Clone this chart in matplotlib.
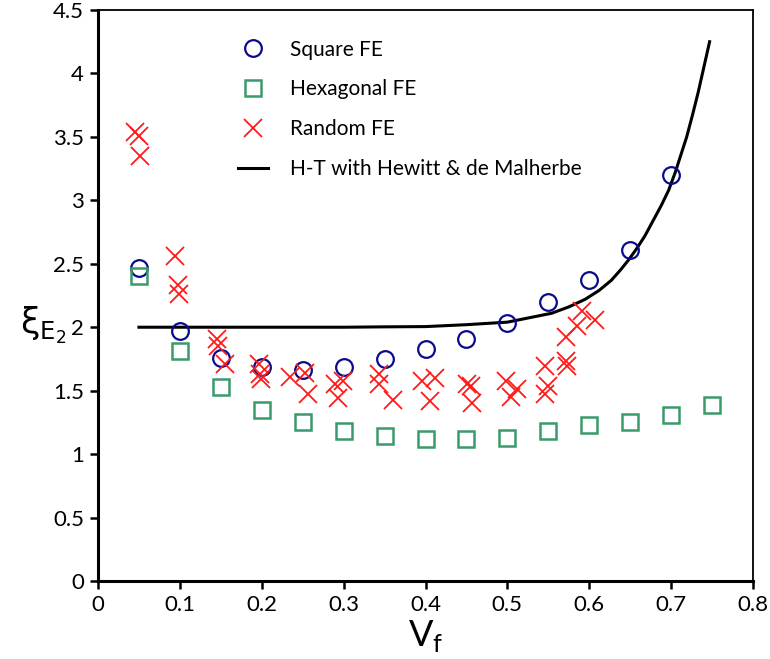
import numpy as np
import matplotlib
matplotlib.use("Agg")
import matplotlib.pyplot as plt

plt.rcParams['font.family'] = ['Lato', 'DejaVu Sans']
plt.rcParams['mathtext.fontset'] = 'dejavusans'

# Square FE (circles)
vf_square = [0.05, 0.10, 0.15, 0.20, 0.25, 0.30, 0.35, 0.40, 0.45, 0.50, 0.55, 0.60, 0.65, 0.70]
xi_square = [2.47, 1.97, 1.76, 1.69, 1.66, 1.69, 1.75, 1.83, 1.91, 2.03, 2.20, 2.37, 2.61, 3.20]

# Hexagonal FE (squares)
vf_hex = [0.05, 0.10, 0.15, 0.20, 0.25, 0.30, 0.35, 0.40, 0.45, 0.50, 0.55, 0.60, 0.65, 0.70, 0.75]
xi_hex = [2.40, 1.81, 1.53, 1.35, 1.25, 1.18, 1.14, 1.12, 1.12, 1.13, 1.18, 1.23, 1.25, 1.31, 1.39]

# Random FE (crosses)
vf_random = [0.045, 0.050, 0.051, 0.094, 0.098, 0.099, 0.145, 0.146, 0.155,
             0.197, 0.198, 0.199, 0.235, 0.253, 0.256, 0.289, 0.299, 0.293,
             0.343, 0.343, 0.360, 0.396, 0.412, 0.406, 0.451, 0.455, 0.457,
             0.498, 0.512, 0.504, 0.546, 0.546, 0.550, 0.571, 0.573, 0.571,
             0.585, 0.591, 0.607]
xi_random = [3.54, 3.51, 3.35, 2.56, 2.33, 2.26, 1.91, 1.85, 1.71,
             1.71, 1.63, 1.59, 1.61, 1.64, 1.47, 1.55, 1.58, 1.44,
             1.63, 1.55, 1.43, 1.58, 1.60, 1.42, 1.55, 1.54, 1.405,
             1.58, 1.51, 1.45, 1.695, 1.47, 1.54, 1.735, 1.695, 1.92,
             2.01, 2.13, 2.06]

# H-T with Hewitt & de Malherbe
vf_ht = [0.05, 0.10, 0.20, 0.30, 0.35, 0.40, 0.45, 0.50, 0.554, 0.575, 0.595,
         0.612, 0.627, 0.638, 0.648, 0.658, 0.668, 0.678, 0.688, 0.697, 0.705,
         0.712, 0.719, 0.726, 0.733, 0.740, 0.747]
xi_ht = [2.00, 2.00, 2.00, 2.00, 2.003, 2.005, 2.02, 2.04, 2.11, 2.16, 2.22,
         2.29, 2.37, 2.45, 2.53, 2.62, 2.72, 2.84, 2.96, 3.08, 3.22,
         3.36, 3.50, 3.67, 3.85, 4.05, 4.25]

fig = plt.figure(figsize=(7.7, 6.59), dpi=100)
ax = fig.add_axes([98 / 770, 1 - 581 / 659, (753 - 98) / 770, (581 - 10) / 659])

ax.plot(vf_square, xi_square, 'o', ms=12, mfc='none', mec='#0a0a8c', mew=1.6,
        label='Square FE', zorder=3)
ax.plot(vf_hex, xi_hex, 's', ms=11.5, mfc='none', mec='#3a9a6a', mew=1.8,
        label='Hexagonal FE', zorder=3)
ax.plot(vf_random, xi_random, 'x', ms=13, mec='#ff1a1a', mew=1.3,
        label='Random FE', zorder=4)
ax.plot(vf_ht, xi_ht, '-', color='black', lw=2.2,
        label='H-T with Hewitt & de Malherbe', zorder=2)

ax.set_xlim(0, 0.8)
ax.set_ylim(0, 4.5)
ax.set_xticks(np.arange(0, 0.81, 0.1))
ax.set_xticklabels(['0', '0.1', '0.2', '0.3', '0.4', '0.5', '0.6', '0.7', '0.8'])
ax.set_yticks(np.arange(0, 4.51, 0.5))
ax.set_yticklabels(['0', '0.5', '1', '1.5', '2', '2.5', '3', '3.5', '4', '4.5'])
ax.tick_params(direction='out', length=6, width=1.8, labelsize=16, pad=4)

for side in ['left', 'bottom']:
    ax.spines[side].set_linewidth(2.2)
for side in ['top', 'right']:
    ax.spines[side].set_linewidth(1.3)

ax.set_xlabel(r'V$_\mathregular{f}$', fontsize=26, labelpad=2)
fig.text(20 / 770, 1 - 325 / 659, r'$\mathrm{\xi}_{\mathrm{E}_\mathrm{2}}$', fontsize=25,
         va='center', ha='left')

ax.legend(loc='upper left', bbox_to_anchor=(0.213, 0.948), frameon=False,
          fontsize=15, handlelength=1.45, handletextpad=1.05, labelspacing=0.95,
          borderpad=0, borderaxespad=0)

fig.savefig('out.png', dpi=100)
